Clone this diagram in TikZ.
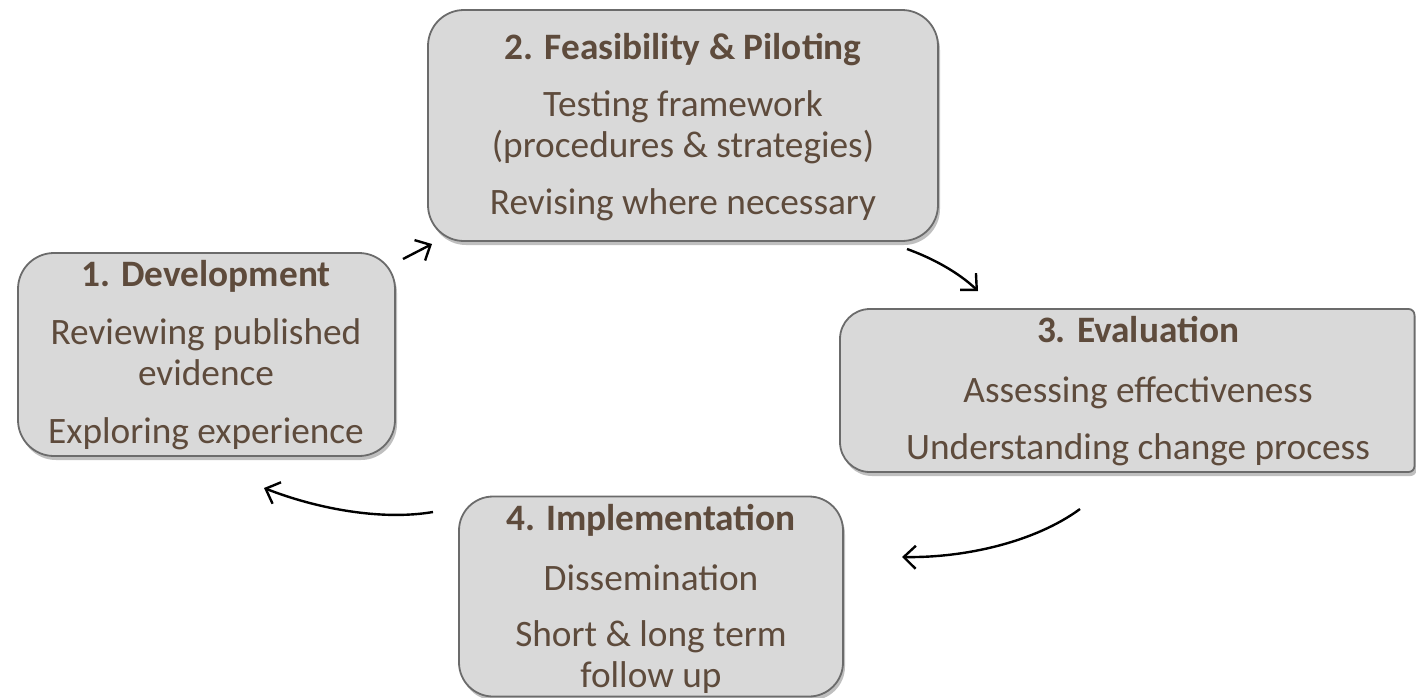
\documentclass[tikz,border=0pt]{standalone}
\usepackage{fontspec}
\setmainfont{Carlito}
\usetikzlibrary{arrows.meta,shadows}
\definecolor{txt}{HTML}{5E4B3C}
\definecolor{boxfill}{HTML}{D9D9D9}
\definecolor{boxline}{HTML}{6B6B6B}
\begin{document}
\begin{tikzpicture}[x=1pt,y=-1pt,
  boxstyle/.style={draw=boxline, line width=1.8pt, fill=boxfill, rounded corners=36pt,
    drop shadow={shadow xshift=2pt, shadow yshift=-4pt, fill=black, opacity=0.25}},
  ttl/.style={anchor=base, text=txt, font=\fontsize{37.3}{44}\selectfont\bfseries, inner sep=0pt},
  bdy/.style={anchor=base, text=txt, font=\fontsize{37.3}{44}\selectfont, inner sep=0pt},
  arr/.style={line width=2.4pt, -{Straight Barb[length=12pt,width=23pt]}}]
\useasboundingbox[fill=white] (0,0) rectangle (1416,697);

% boxes
\node[boxstyle, minimum width=377pt, minimum height=203pt, inner sep=0pt] (b1) at (206.5,354.5) {};
\node[boxstyle, minimum width=510pt, minimum height=231pt, inner sep=0pt] (b2) at (683,125.5) {};
\path[boxstyle] (840,390) [rounded corners=30pt] -- (840,309) -- (1100,309) [rounded corners=6pt] -- (1414.5,309) -- (1414.5,472) -- (1100,472) [rounded corners=30pt] -- (840,472) -- cycle;
\coordinate (b3) at (1127,390.5);
\node[boxstyle, minimum width=384pt, minimum height=200pt, inner sep=0pt, rounded corners=34pt] (b4) at (651,596.5) {};

% texts box 1
\node[ttl] (t1) at (206,286.5) {1. Development};
\node[bdy] (t1a) at (206,344) {Reviewing published};
\node[bdy] (t1b) at (206,385) {evidence};
\node[bdy] (t1c) at (206,443) {Exploring experience};
% box 2
\node[ttl] (t2) at (683,59.5) {2. Feasibility \& Piloting};
\node[bdy] (t2a) at (683,116) {Testing framework};
\node[bdy] (t2b) at (683,157) {(procedures \& strategies)};
\node[bdy] (t2c) at (683,214) {Revising where necessary};
% box 3
\node[ttl] (t3) at (1138,342.5) {3. Evaluation};
\node[bdy] (t3a) at (1138,402) {Assessing effectiveness};
\node[bdy] (t3b) at (1138,459) {Understanding change process};
% box 4
\node[ttl] (t4) at (651,530) {4. Implementation};
\node[bdy] (t4a) at (651,590) {Dissemination};
\node[bdy] (t4b) at (651,646) {Short \& long term};
\node[bdy] (t4c) at (651,687) {follow up};

% arrows
\coordinate (a1s) at (403,259);
\coordinate (a1e) at (432,244);
\coordinate (a2s) at (907,249);
\coordinate (a2e) at (978,291);
\coordinate (a3s) at (1080,509);
\coordinate (a3e) at (902,557);
\coordinate (a4s) at (433,512);
\coordinate (a4e) at (264,488);
\draw[arr] (a1s) -- (a1e);
\draw[arr] (a2s) .. controls (932,258) and (958,272) .. (a2e);
\draw[arr] (a3s) .. controls (1035,542) and (965,558) .. (a3e);
\draw[arr] (a4s) .. controls (380,521) and (315,508) .. (a4e);
\end{tikzpicture}
\end{document}
